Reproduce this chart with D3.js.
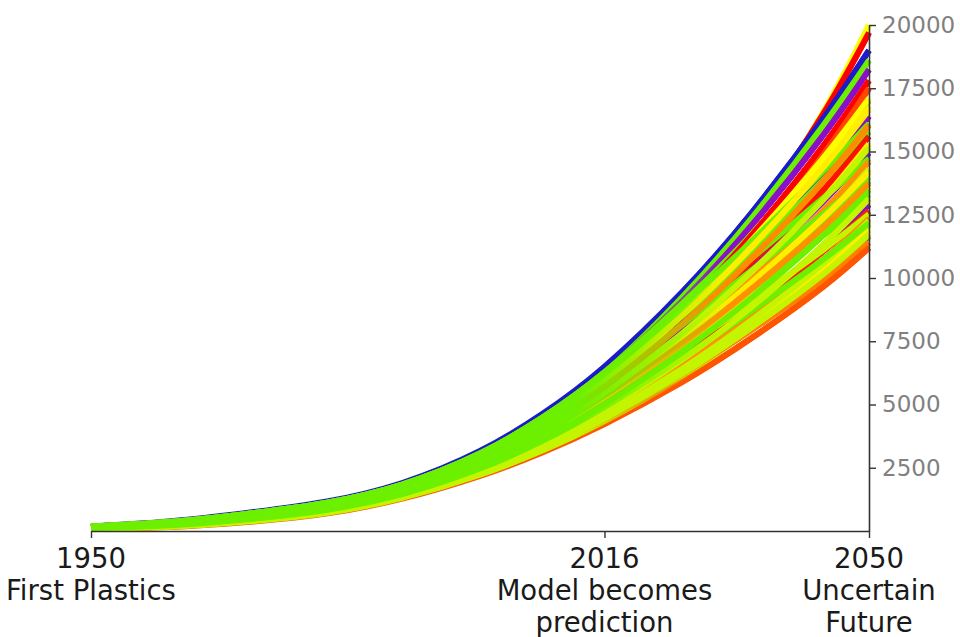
<!DOCTYPE html>
<html>
<head>
<meta charset="utf-8">
<script src="https://cdn.jsdelivr.net/npm/d3@7"></script>
<style>
  html, body { margin: 0; padding: 0; background: #fff; }
  svg { display: block; }
  text { font-family: "DejaVu Sans", sans-serif; }
</style>
</head>
<body>
<svg id="chart" width="960" height="637"></svg>
<script>
// ---------- data ----------
const years = [1950, 1960, 1970, 1980, 1990, 2000, 2008, 2016, 2026, 2035, 2044, 2050];

const seriesColors = [
  "#ffff00", "#ff0000", "#1c1cc8", "#6cf000", "#8a10c8", "#6cf000", "#ff0000", "#ff4500",
  "#ffff00", "#f8f000", "#8a10c8", "#6cf000", "#6cf000", "#ff1000", "#ffee00", "#8a10c8",
  "#6cf000", "#ff9000", "#c4f500", "#6cf000", "#6cf000", "#ffee00", "#6cf000", "#6cf000",
  "#8a10c8", "#ff2000", "#c4f500", "#ff9000", "#c4f500", "#ffee00", "#9a6a40", "#ff8000",
  "#ff5500",
  "#c4f500", "#c4f500", "#6cf000", "#c4f500", "#6cf000", "#ffee00", "#ff9000", "#c4f500",
  "#ffee00", "#ff8c00"
];

const seriesValues = [
  [156, 310, 605, 1006, 1711, 2866, 4168, 5815, 8653, 12117, 16480, 20000],
  [164, 332, 640, 1053, 1773, 2964, 4321, 6041, 8919, 12290, 16429, 19700],
  [180, 375, 711, 1146, 1897, 3162, 4625, 6494, 9442, 12606, 16254, 19000],
  [172, 353, 676, 1099, 1835, 3063, 4473, 6268, 9250, 12400, 15980, 18600],
  [172, 353, 676, 1099, 1835, 3063, 4473, 6268, 9090, 12117, 15605, 18240],
  [172, 353, 676, 1099, 1835, 3063, 4473, 6268, 8988, 11749, 14789, 17008],
  [164, 332, 640, 1053, 1773, 2964, 4321, 6041, 8762, 11722, 15168, 17800],
  [156, 310, 605, 1006, 1711, 2866, 4168, 5815, 8446, 11370, 14825, 17500],
  [164, 332, 640, 1053, 1773, 2964, 4321, 6041, 8704, 11512, 14701, 17100],
  [148, 288, 569, 960, 1649, 2767, 4016, 5588, 8097, 10896, 14213, 16800],
  [156, 310, 605, 1006, 1711, 2866, 4168, 5815, 8355, 11038, 14089, 16400],
  [172, 353, 676, 1099, 1835, 3063, 4473, 6268, 8912, 11478, 14191, 16100],
  [164, 332, 640, 1053, 1773, 2964, 4321, 6041, 8595, 11117, 13827, 15780],
  [148, 288, 569, 960, 1649, 2767, 4016, 5588, 7999, 10539, 13419, 15600],
  [140, 266, 534, 913, 1587, 2668, 3864, 5362, 7683, 10186, 13076, 15300],
  [148, 288, 569, 960, 1649, 2767, 4016, 5588, 7944, 10344, 12989, 14950],
  [164, 332, 640, 1053, 1773, 2964, 4321, 6041, 8508, 10802, 13127, 14720],
  [140, 266, 534, 913, 1587, 2668, 3864, 5362, 7624, 9976, 12610, 14600],
  [132, 245, 498, 866, 1525, 2569, 3712, 5136, 7308, 9623, 12267, 14300],
  [156, 310, 605, 1006, 1711, 2866, 4168, 5815, 8159, 10323, 12500, 14000],
  [140, 266, 534, 913, 1587, 2668, 3864, 5362, 7563, 9749, 12107, 13840],
  [132, 245, 498, 866, 1525, 2569, 3712, 5136, 7254, 9415, 11801, 13600],
  [140, 266, 534, 913, 1587, 2668, 3864, 5362, 7519, 9589, 11750, 13300],
  [148, 288, 569, 960, 1649, 2767, 4016, 5588, 7781, 9749, 11670, 12960],
  [124, 223, 463, 820, 1463, 2470, 3560, 4909, 6904, 8942, 11189, 12900],
  [124, 223, 463, 820, 1463, 2470, 3560, 4909, 6883, 8868, 11028, 12650],
  [132, 245, 498, 866, 1525, 2569, 3712, 5136, 7163, 9092, 11087, 12520],
  [116, 201, 427, 773, 1401, 2372, 3407, 4683, 6566, 8516, 10686, 12350],
  [104, 169, 374, 703, 1308, 2223, 3179, 4343, 6110, 8045, 10297, 12100],
  [108, 180, 392, 727, 1339, 2273, 3255, 4456, 6239, 8118, 10241, 11900],
  [108, 180, 392, 727, 1339, 2273, 3255, 4456, 6217, 8042, 10074, 11650],
  [108, 180, 392, 727, 1339, 2273, 3255, 4456, 6199, 7969, 9906, 11400],
  [100, 158, 356, 680, 1277, 2174, 3103, 4230, 5890, 7645, 9629, 11200],
  [108, 180, 392, 727, 1339, 2273, 3255, 4456, 6225, 8066, 10125, 11728],
  [112, 191, 409, 750, 1370, 2322, 3331, 4570, 6414, 8355, 10547, 12256],
  [124, 223, 463, 820, 1463, 2470, 3560, 4909, 6843, 8724, 10708, 12168],
  [120, 212, 445, 797, 1432, 2421, 3484, 4796, 6777, 8881, 11276, 13136],
  [128, 234, 480, 843, 1494, 2520, 3636, 5022, 7097, 9250, 11655, 13488],
  [140, 266, 534, 913, 1587, 2668, 3864, 5362, 7592, 9855, 12340, 14192],
  [136, 256, 516, 890, 1556, 2619, 3788, 5249, 7410, 9592, 11976, 13752],
  [144, 277, 551, 936, 1618, 2717, 3940, 5475, 7817, 10276, 13054, 15160],
  [160, 321, 622, 1030, 1742, 2915, 4245, 5928, 8522, 11249, 14337, 16656],
  [152, 299, 587, 983, 1680, 2816, 4092, 5702, 8181, 10802, 13783, 16040]
];

const yTicks = [2500, 5000, 7500, 10000, 12500, 15000, 17500, 20000];
const xTicks = [1950, 2016, 2050];
const xTickLabels = [
  ["1950", "First Plastics"],
  ["2016", "Model becomes", "prediction"],
  ["2050", "Uncertain", "Future"]
];

// ---------- layout ----------
const svg = d3.select("#chart");
const x = d3.scaleLinear().domain([1950, 2050]).range([91, 869]);
const y = d3.scaleLinear().domain([0, 20000]).range([531, 25]);

const line = d3.line()
  .x((d, i) => x(years[i]))
  .y(d => y(d))
  .curve(d3.curveNatural);

// mask that fades in a second layer over the projection years
const defs = svg.append("defs");
const grad = defs.append("linearGradient")
  .attr("id", "fade")
  .attr("gradientUnits", "userSpaceOnUse")
  .attr("x1", x(2012)).attr("x2", x(2032)).attr("y1", 0).attr("y2", 0);
grad.append("stop").attr("offset", 0).attr("stop-color", "#000");
grad.append("stop").attr("offset", 1).attr("stop-color", "#fff");
defs.append("mask").attr("id", "rightMask")
  .append("rect").attr("x", 0).attr("y", 0).attr("width", 960).attr("height", 637)
  .attr("fill", "url(#fade)");

// layer 1: green runs on top (history looks green)
const rank = c => (c === "#6cf000" ? 2 : c === "#c4f500" ? 1 : 0);
const orderA = d3.range(seriesValues.length).sort((a, b) => rank(seriesColors[a]) - rank(seriesColors[b]) || a - b);
// layer 2: runs in listed order (projection shows the colour mix)
const orderB = d3.range(seriesValues.length);

function drawLayer(g, order) {
  g.selectAll("path")
    .data(order)
    .join("path")
    .attr("d", i => line(seriesValues[i]))
    .attr("fill", "none")
    .attr("stroke", i => seriesColors[i])
    .attr("stroke-width", 6)
    .attr("stroke-linecap", "butt");
}
drawLayer(svg.append("g"), orderA);
drawLayer(svg.append("g").attr("mask", "url(#rightMask)"), orderB);

// y axis (right)
const yAxis = svg.append("g")
  .attr("transform", `translate(${x(2050)},0)`)
  .call(d3.axisRight(y).tickValues(yTicks).tickSize(7).tickSizeOuter(0).tickPadding(6).tickFormat(d3.format("d")));
yAxis.select(".domain").attr("stroke", "#333").attr("stroke-width", 1.6);
yAxis.selectAll(".tick line").attr("stroke", "#333").attr("stroke-width", 1.4);
yAxis.selectAll(".tick text")
  .attr("fill", "#808080")
  .attr("font-size", 23)
  .attr("font-family", "DejaVu Sans, sans-serif");

// x axis (bottom)
const xAxis = svg.append("g")
  .attr("transform", `translate(0,${y(0)})`)
  .call(d3.axisBottom(x).tickValues(xTicks).tickSize(7).tickSizeOuter(0).tickFormat(""));
xAxis.select(".domain").attr("stroke", "#333").attr("stroke-width", 1.6);
xAxis.selectAll(".tick line").attr("stroke", "#333").attr("stroke-width", 1.4);

const labels = svg.append("g");
xTicks.forEach((t, k) => {
  const txt = labels.append("text")
    .attr("x", x(t))
    .attr("y", 568)
    .attr("text-anchor", "middle")
    .attr("font-size", 27.5)
    .attr("fill", "#1a1a1a");
  xTickLabels[k].forEach((s, j) => {
    txt.append("tspan")
      .attr("x", x(t))
      .attr("y", 568 + j * 32)
      .text(s);
  });
});
</script>
</body>
</html>
